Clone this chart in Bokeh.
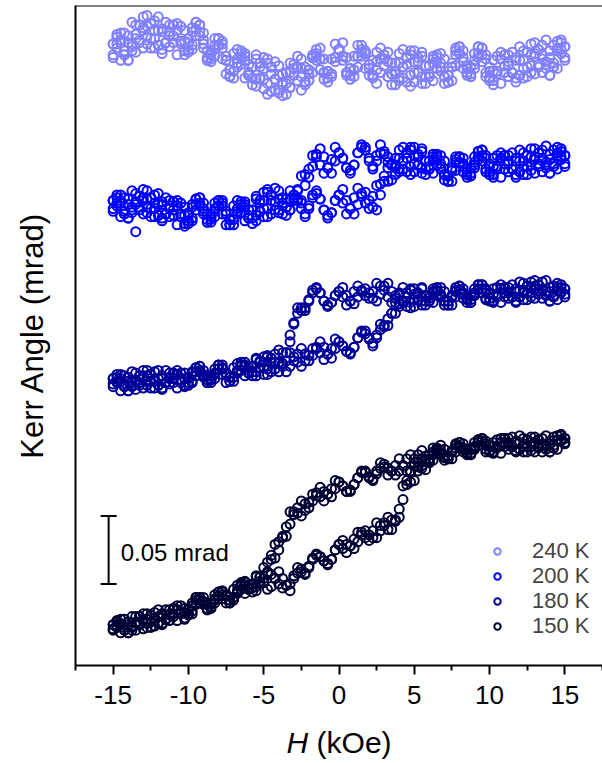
from bokeh.plotting import figure
from bokeh.layouts import column
from bokeh.models import (Range1d, FixedTicker, Span, Legend, LegendItem,
                          Label, Whisker, TeeHead, ColumnDataSource)
from bokeh.core.properties import value
from bokeh.embed import file_html
from bokeh.resources import INLINE

# Applied field H (kOe), sweep grid
FIELD = [-15.0, -14.75, -14.5, -14.25, -14.0, -13.75, -13.5, -13.25, -13.0, -12.75,
         -12.5, -12.25, -12.0, -11.75, -11.5, -11.25, -11.0, -10.75, -10.5, -10.25,
         -10.0, -9.75, -9.5, -9.25, -9.0, -8.75, -8.5, -8.25, -8.0, -7.75,
         -7.5, -7.25, -7.0, -6.75, -6.5, -6.25, -6.0, -5.75, -5.5, -5.25,
         -5.0, -4.75, -4.5, -4.25, -4.0, -3.75, -3.5, -3.25, -3.0, -2.75,
         -2.5, -2.25, -2.0, -1.75, -1.5, -1.25, -1.0, -0.75, -0.5, -0.25,
         0.0, 0.25, 0.5, 0.75, 1.0, 1.25, 1.5, 1.75, 2.0, 2.25,
         2.5, 2.75, 3.0, 3.25, 3.5, 3.75, 4.0, 4.25, 4.5, 4.75,
         5.0, 5.25, 5.5, 5.75, 6.0, 6.25, 6.5, 6.75, 7.0, 7.25,
         7.5, 7.75, 8.0, 8.25, 8.5, 8.75, 9.0, 9.25, 9.5, 9.75,
         10.0, 10.25, 10.5, 10.75, 11.0, 11.25, 11.5, 11.75, 12.0, 12.25,
         12.5, 12.75, 13.0, 13.25, 13.5, 13.75, 14.0, 14.25, 14.5, 14.75,
         15.0]

# Kerr angle (micro-rad), relative to each curve's own start, on the FIELD grid.
# UP = field swept up, DOWN = field swept down; _B = second loop
K240_UP = [5, 12, 6, -3, -7, 3, 9, 19, 25, 18,
           9, 2, 4, 14, 21, 19, 6, -3, 7, 15,
           9, 1, 11, 19, 13, 0, -8, -4, 4, 7,
           -4, -14, -20, -12, -2, -7, -18, -12, -6, -20,
           -28, -24, -12, -8, -18, -25, -32, -27, -18, -12,
           -6, -12, -22, -16, -4, 2, -6, -15, -19, -8,
           1, -4, -16, -21, -14, -4, 1, -2, -13, -20,
           -8, 2, -6, -19, -17, -9, -2, -12, -23, -26,
           -16, -5, -1, -11, -19, -22, -13, -2, -6, -18,
           -22, -11, -2, 0, -11, -19, -7, 3, -3, -16,
           -22, -15, -4, -1, -11, -19, -16, -5, 3, -7,
           -19, -16, -4, 1, 4, -8, -18, -9, 2, 6,
           -5]
K240_DOWN = [-5, 5, 13, 13, 6, 0, -1, 8, 17, 26,
             20, 9, 4, -2, 6, 14, 19, 15, 5, 0,
             6, 17, 21, 11, 2, -7, -6, 1, 9, 5,
             -7, -19, -15, -6, -5, -2, -10, -20, -26, -20,
             -13, -6, -12, -21, -29, -33, -24, -16, -10, -12,
             -19, -23, -14, -3, 1, -6, -16, -20, -17, -5,
             1, 6, -5, -13, -19, -12, -4, -2, -10, -18,
             -24, -16, -6, -1, -9, -15, -22, -20, -10, -3,
             0, -8, -19, -24, -17, -6, -3, -12, -19, -23,
             -12, -3, 3, -5, -13, -17, -10, -2, 2, -6,
             -20, -25, -15, -6, -3, -11, -16, -20, -7, 0,
             -1, -11, -17, -12, -3, 8, 0, -12, -13, -2,
             3]
K240_UP_B = [5, 2, -7, -3, 11, 21, 12, 6, 2, 10,
             20, 22, 15, 1, 6, 11, 19, 15, 7, -3,
             1, 14, 21, 14, 5, -5, -3, 4, 9, 2,
             -7, -19, -15, -9, 0, -4, -16, -25, -21, -12,
             -5, -9, -17, -29, -31, -23, -16, -9, -13, -22,
             -29, -23, -14, -5, -7, -14, -21, -15, -6, 5,
             1, -4, -16, -18, -14, -4, 4, 0, -10, -18,
             -14, -6, -3, -8, -17, -25, -20, -12, -5, 0,
             -8, -16, -24, -19, -11, -4, -8, -9, -19, -23,
             -12, 0, 3, -8, -16, -19, -13, -5, 2, -3,
             -15, -22, -17, -6, -3, -8, -16, -23, -18, -13,
             -1, 5, -2, -10, -16, -13, -5, 4, 7, 1,
             -7]
K240_DOWN_B = [-3, 10, 8, 0, -7, 5, 19, 19, 15, 5,
               2, 15, 25, 16, 6, 3, 11, 20, 18, 7,
               -1, 4, 16, 19, 8, -7, -1, 9, 4, -6,
               -17, -14, -2, 1, -10, -20, -18, -12, -3, -9,
               -21, -32, -30, -21, -11, -17, -24, -27, -13, -4,
               -13, -25, -17, -5, -2, -6, -16, -23, -17, -5,
               1, -7, -18, -13, -4, 4, -1, -13, -18, -7,
               -1, -6, -11, -19, -25, -17, -9, 1, -5, -18,
               -23, -16, -4, -11, -19, -9, -5, -15, -24, -18,
               -9, 2, -2, -13, -18, -12, -2, 3, -8, -19,
               -12, -7, -15, -24, -16, -3, -1, -7, -18, -20,
               -12, -3, 6, 1, -6, -10, -18, -12, 0, 8,
               3]
K200_UP = [-4, 2, 8, 6, 1, -5, -19, -1, 6, 11,
           6, -2, -7, -11, -6, 0, 3, 0, -8, -13,
           -7, 1, 5, 0, -6, -12, -10, -4, 4, 2,
           -6, -14, -10, -2, -1, 3, -3, -9, -11, -4,
           4, 12, 8, 3, -3, -6, -1, 5, 8, 5,
           -2, -6, 0, 8, 11, 5, -3, -7, -5, 4,
           8, 12, 4, -2, -6, 1, 7, 10, 4, -1,
           -3, 8, 22, 32, 31, 30, 25, 27, 35, 41,
           43, 36, 28, 23, 29, 36, 38, 29, 23, 18,
           26, 32, 36, 31, 25, 24, 30, 36, 41, 35,
           25, 21, 29, 35, 37, 31, 27, 23, 33, 39,
           37, 30, 24, 29, 35, 44, 38, 29, 27, 34,
           37]
K200_DOWN = [4, 8, 2, -6, -9, -3, 1, 7, 12, 5,
             -2, -8, -7, 1, 6, 4, -7, -14, -6, -1,
             -5, -11, -3, 6, 2, -6, -12, -8, 0, 4,
             -4, -10, -14, -6, 1, -1, -9, -3, 5, -4,
             -8, -2, 8, 13, 5, 0, -7, -3, 4, 12,
             22, 23, 21, 29, 38, 42, 36, 28, 24, 33,
             39, 35, 28, 24, 30, 39, 43, 41, 33, 27,
             37, 45, 38, 28, 30, 35, 41, 33, 25, 23,
             31, 38, 42, 33, 27, 24, 30, 37, 33, 22,
             18, 26, 32, 35, 27, 22, 32, 40, 37, 27,
             23, 29, 37, 39, 31, 25, 27, 35, 41, 33,
             23, 26, 34, 39, 41, 32, 24, 31, 39, 40,
             31]
K200_UP_B = [-2, 6, 4, -4, -9, -1, 9, 7, 4, -5,
             -8, 2, 9, 3, -6, -8, -3, 4, 2, -7,
             -13, -9, 1, 6, -2, -12, -6, 2, 0, -6,
             -14, -10, 0, 4, -5, -11, -9, -3, 7, 4,
             -2, -8, -6, 3, 11, 6, -1, -3, 6, 11,
             2, -8, -2, 6, 9, 5, -3, -9, -5, 4,
             8, 2, -6, -2, 6, 13, 9, 2, -2, 7,
             15, 16, 18, 18, 19, 28, 35, 43, 39, 29,
             25, 30, 40, 33, 27, 34, 36, 27, 19, 22,
             28, 36, 32, 25, 21, 28, 36, 40, 33, 25,
             31, 35, 29, 21, 27, 37, 39, 33, 25, 23,
             29, 36, 42, 39, 33, 30, 24, 29, 37, 42,
             37]
K200_DOWN_B = [4, 0, -8, -6, 5, 11, 3, -3, -6, -1,
               6, 8, 1, -9, -6, -2, 3, 0, -6, -15,
               -11, -1, 5, 2, -4, -10, -8, -2, 4, 0,
               -6, -14, -10, -4, 3, 1, -7, -13, -7, 2,
               10, 10, 4, -3, -5, 2, 5, 11, 8, 4,
               4, 15, 27, 37, 36, 30, 24, 28, 34, 43,
               39, 35, 28, 26, 30, 39, 45, 43, 35, 29,
               33, 39, 40, 36, 30, 23, 27, 33, 39, 43,
               37, 30, 24, 27, 33, 38, 34, 31, 23, 18,
               26, 34, 36, 29, 23, 22, 28, 34, 41, 37,
               29, 23, 27, 35, 37, 33, 27, 21, 25, 29,
               37, 42, 36, 31, 25, 28, 34, 41, 43, 36,
               29]
K180_UP = [3, 6, 1, -3, -6, -2, 1, 5, 9, 5,
           1, -4, -2, 3, 9, 7, 0, -4, 2, 7,
           4, 0, 5, 12, 9, 5, 0, 3, 10, 13,
           7, 4, 1, 7, 13, 12, 7, 12, 17, 11,
           6, 10, 18, 21, 15, 12, 8, 12, 16, 21,
           25, 21, 16, 20, 26, 30, 26, 21, 18, 25,
           30, 27, 23, 21, 26, 33, 37, 36, 32, 27,
           35, 43, 41, 42, 51, 59, 66, 60, 56, 55,
           61, 66, 70, 64, 60, 59, 64, 70, 67, 60,
           57, 63, 68, 69, 64, 59, 66, 72, 69, 62,
           60, 65, 70, 72, 66, 62, 63, 69, 74, 68,
           61, 63, 69, 72, 74, 67, 60, 64, 70, 70,
           65]
K180_DOWN = [-3, 1, 6, 5, 1, -3, -5, 0, 5, 9,
             6, 1, -2, -5, 0, 4, 7, 6, 0, -2,
             3, 8, 11, 8, 4, 0, 2, 6, 13, 11,
             6, 1, 4, 9, 12, 15, 11, 8, 5, 11,
             15, 20, 18, 15, 14, 14, 22, 35, 44, 51,
             53, 55, 61, 68, 70, 66, 60, 57, 59, 64,
             67, 70, 64, 60, 58, 63, 67, 69, 66, 62,
             60, 65, 71, 73, 67, 64, 58, 59, 63, 68,
             69, 65, 60, 57, 62, 67, 70, 64, 60, 57,
             63, 67, 71, 66, 62, 61, 65, 69, 72, 68,
             62, 59, 65, 69, 70, 66, 63, 60, 68, 73,
             71, 66, 62, 65, 69, 75, 70, 63, 61, 66,
             69]
K180_UP_B = [3, 0, -6, -3, 4, 8, 2, -2, -4, 1,
             6, 8, 3, -4, 0, 3, 7, 6, 2, -3,
             0, 7, 11, 9, 5, 2, 3, 7, 13, 10,
             6, 1, 4, 8, 15, 13, 9, 5, 8, 15,
             19, 19, 15, 10, 8, 14, 16, 22, 19, 15,
             12, 16, 20, 25, 25, 22, 17, 21, 25, 32,
             30, 27, 23, 22, 26, 33, 38, 38, 33, 29,
             33, 39, 42, 47, 51, 51, 56, 60, 66, 69,
             65, 61, 57, 60, 64, 69, 67, 65, 60, 57,
             63, 68, 71, 65, 61, 59, 64, 68, 72, 69,
             65, 60, 63, 69, 70, 67, 63, 59, 63, 66,
             71, 74, 71, 67, 62, 64, 67, 71, 73, 67,
             63]
K180_DOWN_B = [-1, 4, 3, -2, -6, 0, 7, 5, 3, -2,
               -4, 3, 9, 5, 0, -1, 3, 9, 7, 3,
               -2, 1, 8, 12, 6, 0, 5, 10, 10, 6,
               0, 4, 11, 14, 9, 5, 7, 12, 18, 16,
               11, 6, 8, 15, 24, 22, 22, 30, 43, 55,
               55, 53, 60, 66, 69, 66, 60, 56, 59, 64,
               67, 63, 57, 60, 67, 71, 68, 64, 62, 67,
               73, 71, 68, 63, 59, 62, 65, 70, 66, 59,
               56, 61, 69, 64, 60, 66, 68, 63, 57, 60,
               64, 70, 68, 62, 59, 64, 69, 72, 66, 61,
               66, 69, 65, 59, 63, 70, 72, 67, 63, 61,
               66, 70, 75, 72, 68, 65, 60, 63, 68, 72,
               69]
K150_UP = [-2, 1, 6, 6, 2, -2, -2, 3, 6, 10,
           9, 5, 3, 2, 6, 10, 14, 13, 10, 7,
           13, 18, 22, 18, 17, 13, 15, 20, 26, 26,
           23, 18, 22, 27, 30, 34, 31, 29, 27, 32,
           36, 40, 39, 36, 32, 29, 31, 32, 38, 40,
           41, 40, 45, 51, 54, 52, 49, 47, 50, 57,
           61, 64, 61, 60, 58, 63, 68, 71, 68, 66,
           66, 71, 77, 81, 79, 79, 81, 94, 105, 114,
           119, 118, 117, 116, 122, 129, 132, 128, 125, 124,
           129, 132, 136, 132, 130, 128, 132, 136, 139, 135,
           130, 128, 133, 136, 139, 135, 133, 130, 136, 139,
           138, 133, 129, 132, 135, 141, 137, 132, 131, 137,
           139]
K150_DOWN = [2, 5, 2, -2, -4, 0, 3, 8, 10, 6,
             4, 1, 3, 9, 13, 13, 8, 5, 11, 14,
             14, 10, 17, 22, 22, 17, 14, 18, 23, 27,
             24, 20, 20, 25, 32, 31, 28, 32, 37, 34,
             33, 41, 53, 61, 63, 66, 67, 76, 83, 88,
             93, 91, 88, 93, 99, 103, 100, 98, 96, 102,
             107, 104, 100, 100, 105, 110, 114, 114, 110, 108,
             115, 121, 118, 112, 115, 119, 124, 119, 115, 115,
             121, 127, 130, 126, 124, 123, 128, 134, 131, 126,
             124, 129, 133, 135, 131, 127, 133, 138, 137, 131,
             129, 133, 138, 139, 135, 131, 133, 137, 141, 135,
             129, 130, 135, 138, 139, 134, 129, 134, 138, 141,
             136]
K150_UP_B = [-1, 4, 3, 0, -4, 1, 8, 8, 5, 0,
             0, 7, 13, 10, 6, 5, 10, 16, 16, 11,
             9, 12, 20, 22, 19, 13, 18, 24, 23, 21,
             18, 20, 28, 31, 28, 25, 28, 32, 38, 37,
             33, 28, 30, 36, 41, 36, 31, 27, 36, 44,
             43, 39, 44, 50, 53, 52, 49, 46, 50, 57,
             61, 58, 55, 60, 65, 70, 70, 66, 64, 71,
             77, 75, 75, 72, 72, 78, 87, 104, 108, 107,
             108, 115, 124, 122, 121, 127, 131, 127, 123, 126,
             130, 135, 133, 129, 127, 131, 136, 138, 134, 129,
             134, 136, 133, 128, 133, 139, 140, 136, 131, 129,
             133, 136, 140, 138, 134, 133, 129, 132, 137, 142,
             139]
K150_DOWN_B = [2, 0, -4, -2, 4, 8, 4, 2, -1, 3,
               9, 11, 8, 3, 6, 9, 14, 13, 11, 6,
               10, 16, 22, 20, 18, 14, 17, 21, 26, 24,
               23, 18, 22, 26, 33, 33, 29, 26, 30, 37,
               44, 48, 50, 51, 57, 67, 74, 85, 85, 84,
               82, 86, 92, 98, 97, 96, 93, 98, 102, 108,
               107, 104, 100, 101, 105, 110, 115, 115, 111, 109,
               113, 117, 120, 117, 115, 112, 115, 119, 124, 127,
               124, 122, 119, 123, 127, 132, 130, 130, 125, 124,
               129, 134, 136, 131, 128, 127, 131, 134, 139, 137,
               133, 129, 132, 136, 139, 136, 133, 129, 131, 133,
               138, 140, 136, 133, 129, 131, 135, 140, 141, 138,
               135]

LABELS = ["240 K", "200 K", "180 K", "150 K"]
COLORS = ["#8080FF", "#0000FF", "#000099", "#000033"]
OFFSETS = [452, 338, 208, 28]          # vertical offsets of the stacked curves (micro-rad)
LOOPS = [[K240_UP, K240_DOWN, K240_UP_B, K240_DOWN_B],
         [K200_UP, K200_DOWN, K200_UP_B, K200_DOWN_B],
         [K180_UP, K180_DOWN, K180_UP_B, K180_DOWN_B],
         [K150_UP, K150_DOWN, K150_UP_B, K150_DOWN_B]]

SCALE_LEN = 50        # scale bar length, micro-rad (0.05 mrad)
SCALE_H = -15.3       # scale bar position (kOe)
SCALE_LOW = 60        # scale bar lower end (micro-rad)

FONT = "Liberation Sans"

p = figure(width=602, height=718, output_backend="svg", toolbar_location=None,
           x_range=Range1d(-17.5, 17.5), y_range=Range1d(0, 485.3),
           min_border_left=75, min_border_right=0, min_border_top=5, min_border_bottom=53)
p.outline_line_color = None
p.xgrid.visible = False
p.ygrid.visible = False
p.background_fill_color = "white"
p.border_fill_color = "white"

# x axis
xa = p.xaxis[0]
xa.ticker = FixedTicker(ticks=[-15, -10, -5, 0, 5, 10, 15],
                        minor_ticks=[-17.5, -12.5, -7.5, -2.5, 2.5, 7.5, 12.5, 17.5])
xa.major_label_overrides = {-15: "-15", -10: "-10", -5: "-5", 0: "0",
                            5: "5", 10: "10", 15: "15"}
xa.axis_line_width = 2
xa.axis_line_color = "black"
xa.major_tick_line_width = 2
xa.minor_tick_line_width = 2
xa.major_tick_in = 0
xa.major_tick_out = 9
xa.minor_tick_in = 0
xa.minor_tick_out = 5
xa.major_label_text_font = FONT
xa.major_label_text_font_size = "26px"
xa.major_label_text_color = "black"
xa.major_label_standoff = 11

# y axis
ya = p.yaxis[0]
ya.ticker = FixedTicker(ticks=[])
ya.axis_line_width = 2
ya.axis_line_color = "black"
ya.major_tick_out = 0
ya.major_tick_in = 0
ya.minor_tick_out = 0
ya.minor_tick_in = 0
ya.major_label_text_font_size = "0px"
ya.axis_label = "Kerr Angle (mrad)"
ya.axis_label_text_font = FONT
ya.axis_label_text_font_size = "31px"
ya.axis_label_text_font_style = "normal"
ya.axis_label_text_color = "black"
ya.axis_label_standoff = 26

# top frame line
p.add_layout(Span(location=485.3, dimension="width", line_color="black", line_width=2))

renderers = []
for lab, col, off, loops in zip(LABELS, COLORS, OFFSETS, LOOPS):
    xs, ys = [], []
    for k, branch in enumerate(loops):
        assert len(branch) == len(FIELD)
        pts = list(zip(FIELD, branch))
        if k % 2 == 1:
            pts = pts[::-1]
        xs += [h for h, _ in pts]
        ys += [v + off for _, v in pts]
    src = ColumnDataSource(dict(h=xs, k=ys))
    r = p.scatter("h", "k", source=src, marker="circle", size=9,
                  line_color=col, line_width=2, fill_color=None)
    renderers.append((lab, r))

# legend: one entry per row, rows packed closely as in the original
LEGEND_ROWS_Y = [101, 76, 51, 26]
for (lab, r), ly in zip(renderers, LEGEND_ROWS_Y):
    lg = Legend(items=[LegendItem(label=lab, renderers=[r])], location=(414, ly))
    lg.border_line_color = None
    lg.background_fill_alpha = 0
    lg.label_text_font = FONT
    lg.label_text_font_size = "22px"
    lg.glyph_width = 16
    lg.glyph_height = 16
    lg.label_standoff = 27
    lg.padding = 0
    lg.margin = 0
    p.add_layout(lg)

# scale bar
sb = ColumnDataSource(dict(base=[SCALE_H], lower=[SCALE_LOW], upper=[SCALE_LOW + SCALE_LEN]))
p.add_layout(Whisker(source=sb, base="base", lower="lower", upper="upper",
                     dimension="height", line_color="black", line_width=2,
                     lower_head=TeeHead(size=16, line_width=2, line_color="black"),
                     upper_head=TeeHead(size=16, line_width=2, line_color="black")))
p.add_layout(Label(x=SCALE_H + 0.8, y=SCALE_LOW + 23, text="0.05 mrad",
                   text_font=FONT, text_font_size="24px", text_baseline="middle",
                   text_align="left", text_color="black"))

# x axis title strip: italic H + (kOe)
t = figure(width=602, height=45, output_backend="svg", toolbar_location=None,
           x_range=p.x_range, y_range=Range1d(0, 1),
           x_axis_type=None, y_axis_type=None,
           min_border_left=75, min_border_right=0, min_border_top=0, min_border_bottom=0)
t.outline_line_color = None
t.background_fill_color = "white"
t.border_fill_color = "white"
t.text(x=[-3.49], y=[0.47], text=["H"], text_font=value(FONT), text_font_size="30px",
       text_font_style="italic", text_baseline="middle", text_align="left",
       text_color="black")
t.text(x=[-1.49], y=[0.47], text=["(kOe)"], text_font=value(FONT), text_font_size="30px",
       text_baseline="middle", text_align="left", text_color="black")

layout = column(p, t, spacing=0)
open("out.html", "w").write(file_html(layout, INLINE))
